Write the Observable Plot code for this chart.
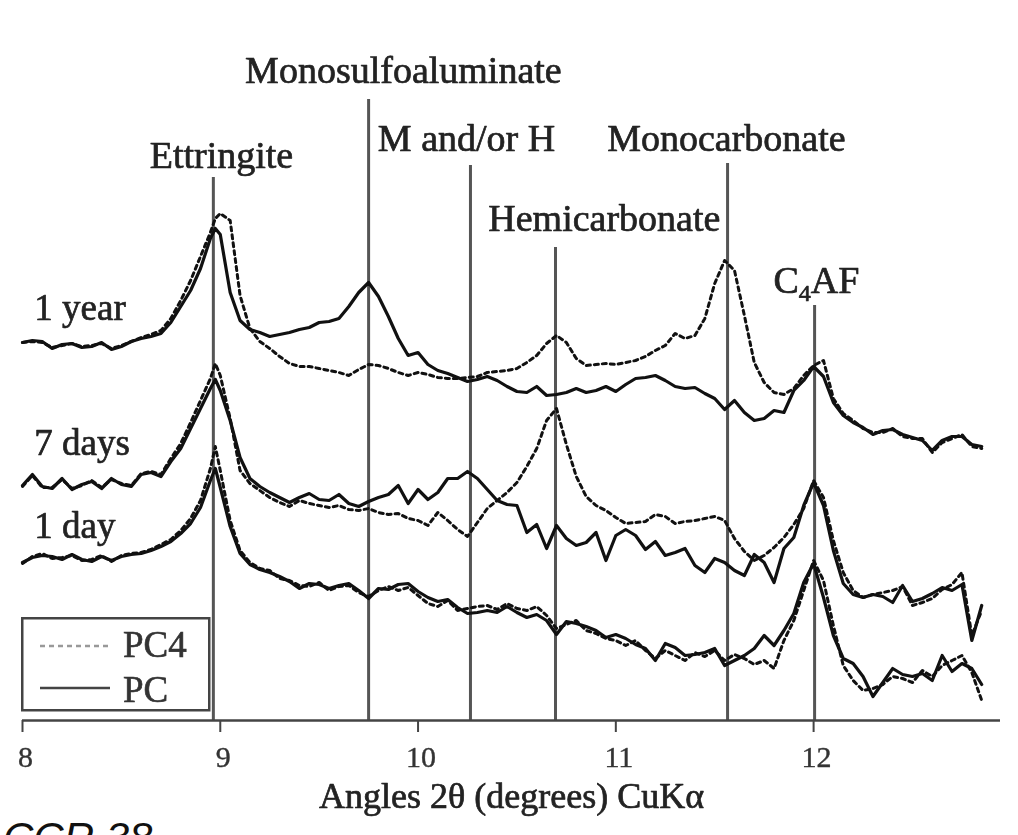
<!DOCTYPE html>
<html>
<head>
<meta charset="utf-8">
<script src="https://cdn.jsdelivr.net/npm/d3@7"></script>
<script src="https://cdn.jsdelivr.net/npm/@observablehq/plot@0.6"></script>
<style>
  html, body { margin: 0; padding: 0; background: #fff; overflow: hidden; }
  #wrap { position: relative; width: 1018px; height: 835px; overflow: hidden; background: #fff; }
  #chart { position: absolute; left: 0; top: 0; }
  #chart svg { filter: blur(0.35px); }
  #legend { position: absolute; left: 21px; top: 617px; filter: blur(0.35px); }
  #caption { position: absolute; left: 3px; top: 817px; font: italic 42px "Liberation Sans", Arial, sans-serif; line-height: 42px; color: #111; white-space: nowrap; }
</style>
</head>
<body>
<div id="wrap">
  <div id="chart"></div>
  <svg id="legend" width="192" height="96" font-family="'Liberation Serif', 'Times New Roman', serif">
    <rect x="1.25" y="1.25" width="187" height="92" fill="#fff" stroke="#444" stroke-width="2.5"></rect>
    <line x1="19" y1="29" x2="89" y2="29" stroke="#999" stroke-width="2.5" stroke-dasharray="5,4"></line>
    <text x="102" y="40" font-size="37" fill="#333" stroke="#333" stroke-width="0.6" paint-order="stroke">PC4</text>
    <line x1="19" y1="71" x2="89" y2="71" stroke="#444" stroke-width="2.5"></line>
    <text x="102" y="85" font-size="37" fill="#333" stroke="#333" stroke-width="0.6" paint-order="stroke">PC</text>
  </svg>
  <div id="caption">CCR 38</div>
</div>
<script>
// 2θ sampling positions (degrees)
const angles = [
  8.00,8.05,8.10,8.15,8.20,8.25,8.30,8.35,8.40,8.45,
  8.50,8.55,8.60,8.65,8.70,8.75,8.80,8.85,8.90,8.95,8.975,
  9.00,9.05,9.10,9.15,9.20,9.25,9.30,9.35,9.40,9.45,
  9.50,9.55,9.60,9.65,9.70,9.75,9.80,9.85,9.90,9.95,
  10.00,10.05,10.10,10.15,10.20,10.25,10.30,10.35,10.40,10.45,
  10.50,10.55,10.60,10.65,10.70,10.75,10.80,10.85,10.90,10.95,
  11.00,11.05,11.10,11.15,11.20,11.25,11.30,11.35,11.40,11.45,
  11.50,11.55,11.60,11.65,11.70,11.75,11.80,11.85,11.90,11.95,
  12.00,12.05,12.10,12.15,12.20,12.25,12.30,12.35,12.40,12.45,
  12.50,12.55,12.60,12.65,12.70,12.75,12.80,12.85
];

// Intensities (arbitrary units, traces already offset as in the figure)
const pc1y = [
  378,380,379,372,376,377,373,374,378,371,
  374,379,382,384,387,398,414,430,452,482,492,
  486,428,400,391,388,384,386,388,391,393,
  398,399,402,414,428,438,424,404,382,365,
  368,356,350,347,343,339,341,344,340,334,
  329,328,334,325,326,328,332,328,330,334,
  329,336,342,343,345,340,334,332,333,327,
  322,311,320,308,300,302,310,308,330,340,
  354,344,318,305,298,293,286,290,291,286,
  283,280,270,280,284,284,276,274
];
const pc4_1y = [
  378,379,378,373,375,377,374,375,377,372,
  375,379,383,386,390,402,420,440,464,488,502,
  507,500,425,392,379,372,364,357,354,354,
  352,350,348,345,351,356,355,352,348,345,
  348,346,343,342,342,343,344,348,349,350,
  352,358,365,377,385,378,362,355,356,357,
  356,358,360,364,370,375,387,382,385,402,
  437,460,450,405,358,338,328,326,332,345,
  355,360,322,307,300,292,288,288,292,284,
  282,282,268,278,282,286,274,272
];
const pc7d = [
  235,246,234,232,242,231,236,239,232,242,
  236,234,246,248,244,259,272,292,312,332,341,
  330,300,263,242,234,228,223,218,223,227,
  221,220,226,217,214,219,223,226,235,217,
  231,221,228,242,242,249,242,231,220,216,
  215,188,196,172,195,182,175,178,188,160,
  185,191,185,171,179,165,168,172,155,148,
  162,158,150,145,166,158,138,172,183,215,
  238,215,170,137,126,123,126,124,118,135,
  119,122,127,133,130,136,80,115
];
const pc4_7d = [
  234,245,233,233,241,232,235,240,233,241,
  237,235,247,249,246,262,277,298,320,342,357,
  345,302,250,237,230,223,218,214,220,217,
  215,213,215,211,210,212,208,206,207,202,
  200,195,208,200,191,184,198,212,220,228,
  238,254,272,300,312,276,244,224,215,210,
  203,197,198,199,206,204,197,199,200,202,
  204,200,182,169,160,165,173,183,196,212,
  240,223,180,148,130,123,126,128,130,134,
  115,118,122,131,136,148,85,110
];
const pc1d = [
  158,163,165,164,161,166,161,159,164,160,
  164,166,167,170,174,179,187,197,213,240,252,
  233,194,167,156,151,148,144,139,132,137,
  136,132,135,137,130,122,132,131,136,137,
  129,123,119,121,113,107,108,110,108,114,
  108,103,106,100,86,99,97,94,90,83,
  86,82,76,72,60,77,73,65,66,68,
  72,55,60,65,72,85,75,90,107,138,
  157,123,85,62,57,44,24,38,52,46,
  44,47,40,65,49,57,52,36
];
const pc4_1d = [
  157,164,167,162,163,165,160,161,165,159,
  165,167,168,171,176,181,190,202,220,252,274,
  250,200,170,158,152,150,142,140,135,134,
  138,130,134,135,128,124,130,134,130,133,
  125,117,114,120,110,112,114,115,111,117,
  112,110,114,105,92,96,100,90,87,82,
  80,75,80,70,62,70,65,60,68,64,
  70,60,66,62,56,60,52,80,100,130,
  160,140,95,55,40,30,32,36,44,42,
  38,50,44,55,60,65,48,20
];

const ages = ["1 year", "7 days", "1 day"];
const pcSeries = [pc1y, pc7d, pc1d];
const pc4Series = [pc4_1y, pc4_7d, pc4_1d];

// Phase reference lines
const phaseNames = ["Ettringite", "Monosulfoaluminate", "M and/or H", "Hemicarbonate", "Monocarbonate", "C4AF"];
const phaseAngles = [8.965, 9.75, 10.265, 10.695, 11.565, 12.005];
const phaseLineTops = [543, 621, 555, 473, 557, 415];
const phaseLabelX = [9.006, 9.926, 10.245, 10.942, 11.559, 12.014];
const phaseLabelY = [565, 650, 582, 502, 582, 440];

// Age labels
const ageLabelX = [8.06, 8.06, 8.06];
const ageLabelY = [412, 277, 194];

const xTicks = [8, 9, 10, 11, 12];
const xTitle = "Angles 2θ (degrees) CuKα";

const rows = (series, cement) => ages.flatMap((age, i) =>
  angles.map((a, j) => ({angle: a, intensity: series[i][j], age, cement})));
const pcRows = rows(pcSeries, "PC");
const pc4Rows = rows(pc4Series, "PC4");
const phases = phaseNames.map((name, i) => ({name, pos: phaseAngles[i], top: phaseLineTops[i], lx: phaseLabelX[i], ly: phaseLabelY[i]}));
const ageLabels = ages.map((t, i) => ({t, x: ageLabelX[i], y: ageLabelY[i]}));

const textStyle = {fill: "#222", stroke: "#222", strokeWidth: 0.7};

const chart = Plot.plot({
  width: 1018,
  height: 835,
  marginLeft: 22,
  marginRight: 18,
  marginTop: 0,
  marginBottom: 115,
  x: {domain: [8, 12.945]},
  y: {domain: [0, 720], axis: null},
  style: {fontFamily: "'Liberation Serif', 'Times New Roman', serif", background: "white", color: "#222"},
  marks: [
    Plot.ruleX(phases, {x: "pos", y1: 0, y2: "top", stroke: "#555", strokeWidth: 3}),
    Plot.line(pc4Rows, {x: "angle", y: "intensity", z: "age", stroke: "#111", strokeWidth: 3, strokeDasharray: "4,4", curve: "linear"}),
    Plot.line(pcRows, {x: "angle", y: "intensity", z: "age", stroke: "#111", strokeWidth: 3.2, curve: "linear"}),
    Plot.ruleY([0], {stroke: "#444", strokeWidth: 2.5}),
    Plot.axisX({ticks: xTicks, tickSize: 12, tickFormat: () => "", label: null, stroke: "#444", strokeWidth: 2}),
    Plot.text(xTicks, {x: d => d, text: d => String(d), frameAnchor: "bottom", dy: 37, dx: 3, fontSize: 30, lineAnchor: "middle", fill: "#333", stroke: "#333", strokeWidth: 0.4}),
    Plot.text(phases, {x: "lx", y: "ly", text: "name", fontSize: 38, lineAnchor: "middle", ...textStyle}),
    Plot.text(ageLabels, {x: "x", y: "y", text: "t", fontSize: 37, textAnchor: "start", lineAnchor: "middle", ...textStyle}),
    Plot.text([xTitle], {frameAnchor: "bottom", dy: 76, fontSize: 36, lineAnchor: "middle", ...textStyle})
  ]
});

// subscript in C4AF
d3.select(chart).selectAll("text").filter(function() { return this.textContent === "C4AF"; }).each(function() {
  const t = d3.select(this);
  t.text(null);
  t.append("tspan").text("C");
  t.append("tspan").attr("font-size", 24).attr("dy", 8).text("4");
  t.append("tspan").attr("dy", -8).text("AF");
});

document.getElementById("chart").appendChild(chart);
</script>
</body>
</html>
